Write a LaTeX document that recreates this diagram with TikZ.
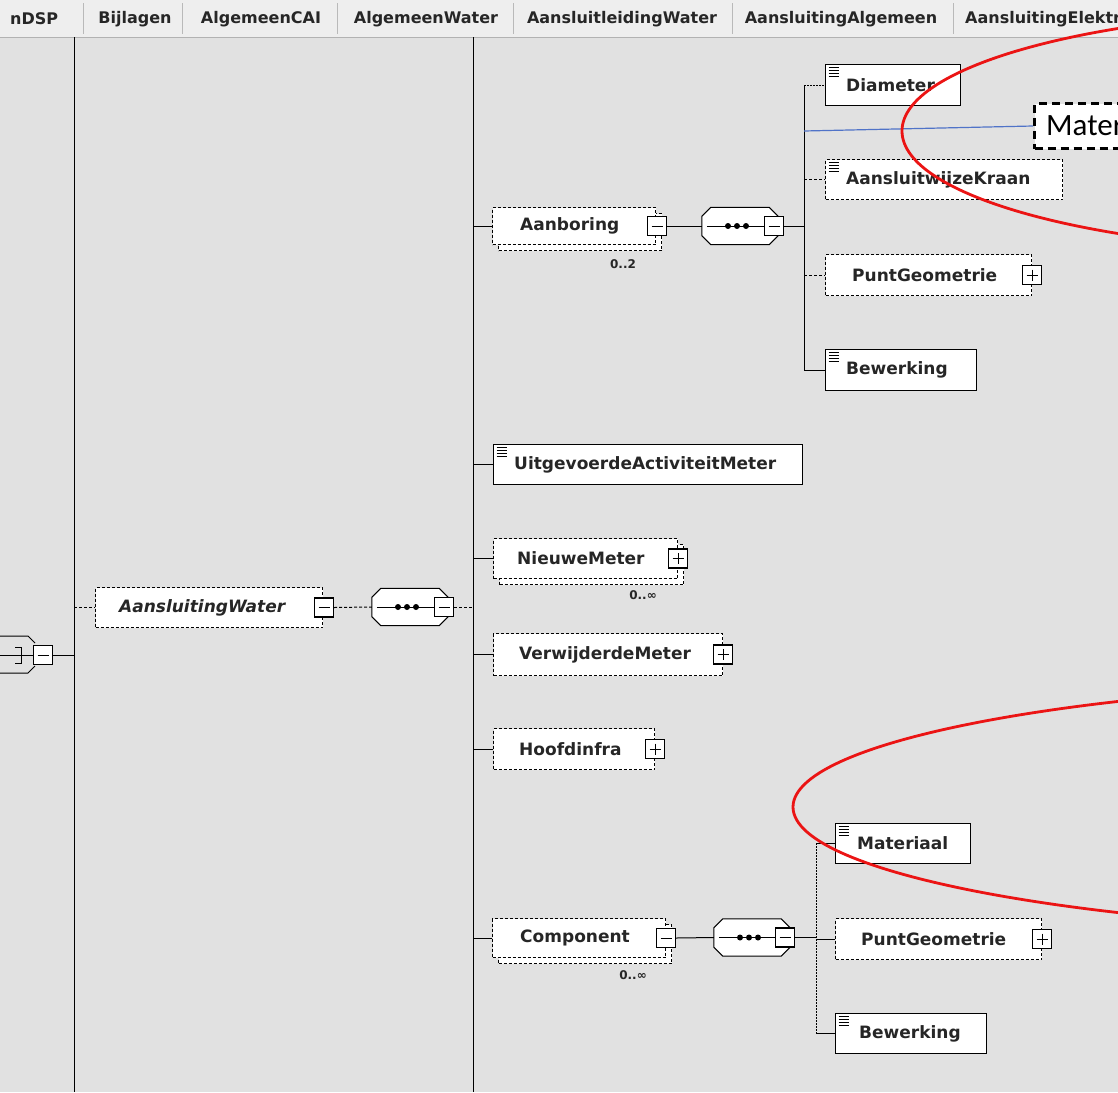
\documentclass[tikz,border=0pt]{standalone}
\usepackage{fontspec}
\setmainfont{DejaVu Sans}
\newfontfamily\notefont{Carlito}
\usetikzlibrary{positioning,shadows}
\definecolor{canvasgray}{RGB}{225,225,225}
\definecolor{tabgray}{RGB}{238,238,238}
\definecolor{notered}{RGB}{235,20,20}
\definecolor{noteblue}{RGB}{80,115,200}
\newcommand\lblfont{\fontsize{17}{19}\selectfont\bfseries}
\newcommand\tabfont{\fontsize{16}{18}\selectfont\bfseries}
\newcommand\cardfont{\fontsize{12}{14}\selectfont\bfseries}

\tikzset{
  elembox/.style={draw=black, fill=white, line width=1pt, inner sep=0pt, anchor=north west},
  optbox/.style={elembox, dash pattern=on 3pt off 2pt},
  multbox/.style={copy shadow={shadow xshift=6pt, shadow yshift=-6pt}},
  docbox/.style={path picture={
      \draw[solid, line width=1.5pt] ([shift={(3pt,-3pt)}]path picture bounding box.north west) -- ++(10pt,0pt);
      \foreach \k in {6,9,12}
        \draw[solid, line width=0.8pt] ([shift={(3pt,-\k pt)}]path picture bounding box.north west) -- ++(10pt,0pt);}},
  lbl/.style={font=\lblfont, text=black!85, inner sep=0pt, anchor=west},
  tablbl/.style={font=\tabfont, text=black!85, inner sep=0pt},
  cardlbl/.style={font=\cardfont, text=black!85, inner sep=0pt},
  minbtn/.style={draw, fill=white, line width=1.4pt, minimum size=19pt, inner sep=0pt,
    path picture={\draw[line width=0.9pt] ([xshift=4pt]path picture bounding box.west) -- ([xshift=-4pt]path picture bounding box.east);}},
  plusbtn/.style={draw, fill=white, line width=1.4pt, minimum size=19pt, inner sep=0pt,
    path picture={\draw[line width=0.9pt] ([xshift=4pt]path picture bounding box.west) -- ([xshift=-4pt]path picture bounding box.east);
      \draw[line width=0.9pt] ([yshift=-4pt]path picture bounding box.north) -- ([yshift=4pt]path picture bounding box.south);}},
  seqbox/.style={minimum width=76pt, minimum height=37pt, inner sep=0pt},
  octagon/.style={draw=black, fill=white, line width=1pt},
  link/.style={line width=1pt},
  optlink/.style={line width=1pt, dash pattern=on 3pt off 2pt},
  dotlink/.style={line width=1pt, dash pattern=on 1.5pt off 1.5pt},
  notebox/.style={draw=black, fill=white, line width=3pt, dash pattern=on 8pt off 5pt, anchor=north west,
    minimum width=120pt, minimum height=45pt, inner sep=0pt},
  ring/.style={notered, line width=2.8pt}
}

\begin{document}
\begin{tikzpicture}[x=1pt, y=-1pt]
  \useasboundingbox (0,0) rectangle (1118,1092);
  \clip (0,0) rectangle (1118,1092);
  \fill[canvasgray] (0,0) rectangle (1118,1092);

  % tab bar
  \fill[tabgray] (0,0) rectangle (1118,37);
  \draw[gray!60] (0,37) -- (1118,37);
  \foreach \sx in {83,182,337,513,732,953}
    \draw[gray!55] (\sx,3) -- (\sx,34);
  \node[tablbl, anchor=west] (tabdsp) at (10,19) {nDSP};
  \node[tablbl] (tabbijlagen) at (135,19) {Bijlagen};
  \node[tablbl] (tabcai) at (261,19) {AlgemeenCAI};
  \node[tablbl] (tabwater) at (426,19) {AlgemeenWater};
  \node[tablbl] (tableiding) at (622,19) {AansluitleidingWater};
  \node[tablbl] (tabalgemeen) at (841,19) {AansluitingAlgemeen};
  \node[tablbl, anchor=west] (tabelektra) at (965,19) {AansluitingElektra};

  % left trunk and the cut-off compositor
  \coordinate (trunkL) at (74,37);
  \coordinate (trunkLend) at (74,1092);
  \draw[link] (trunkL) -- (trunkLend);
  \draw[link] (0,636) -- (28,636) -- (35,643);
  \draw[link] (0,673) -- (28,673) -- (35,666);
  \node[minbtn] (rootbtn) at (43,655) {};
  \draw[link] (0,655) -- (rootbtn.west);
  \draw[line width=0.8pt] (15,647) -- (21,647) -- (21,663) -- (15,663);
  \draw[link] (rootbtn.east) -- (rootbtn.east -| trunkL);

  % sequence compositors
  \node[seqbox] (seqw) at (410,607) {};
  \node[seqbox] (seqa) at (740,226) {};
  \node[seqbox] (seqc) at (752,937.5) {};
  \foreach \sq in {seqw,seqa,seqc} {
    \draw[octagon] ([xshift=9pt]\sq.north west) -- ([xshift=-9pt]\sq.north east)
      -- ([yshift=-9pt]\sq.north east) -- ([yshift=9pt]\sq.south east)
      -- ([xshift=-9pt]\sq.south east) -- ([xshift=9pt]\sq.south west)
      -- ([yshift=9pt]\sq.south west) -- ([yshift=-9pt]\sq.north west) -- cycle;
    \draw[link] ([xshift=5pt]\sq.west) -- ([xshift=-10pt]\sq.east);
    \foreach \dx in {-12,-3,6}
      \fill ([xshift=\dx pt]\sq.center) circle (3pt);
  }

  % AansluitingWater
  \node[optbox, minimum width=227pt, minimum height=40pt] (aansluiting) at (95,587) {};
  \node[lbl, font=\lblfont\itshape, right=24pt of aansluiting.west] (aansluitinglbl) {AansluitingWater};
  \node[minbtn] (aansluitingbtn) at ([xshift=1pt]aansluiting.east) {};
  \draw[optlink] (aansluiting.west -| trunkL) -- (aansluiting.west);
  \node[minbtn] (seqwbtn) at (444,607) {};
  \draw[optlink] (aansluitingbtn.east) -- (seqw.west);

  % main trunk
  \coordinate (trunkM) at (473,37);
  \coordinate (trunkMend) at (473,1092);
  \draw[optlink] (seqwbtn.east) -- (seqwbtn.east -| trunkM);
  \draw[link] (trunkM) -- (trunkMend);

  % Aanboring
  \node[optbox, multbox, minimum width=163pt, minimum height=37pt] (aanboring) at (492,207) {};
  \node[lbl, right=28pt of aanboring.west] (aanboringlbl) {Aanboring};
  \node[minbtn] (aanboringbtn) at ([xshift=1pt]aanboring.east) {};
  \node[cardlbl] (aanboringcard) at (623,264) {0..2};
  \draw[link] (aanboring.west -| trunkM) -- (aanboring.west);
  \node[minbtn] (seqabtn) at (774,226) {};
  \draw[link] (aanboringbtn.east) -- (seqa.west);
  \coordinate (trunkA) at (804,85);
  \coordinate (trunkAend) at (804,370);
  \draw[link] (seqabtn.east) -- (seqabtn.east -| trunkA);
  \draw[link] (trunkA) -- (trunkAend);

  \node[elembox, docbox, minimum width=135pt, minimum height=41pt] (diameter) at (825,64) {};
  \node[lbl, right=21pt of diameter.west] (diameterlbl) {Diameter};
  \draw[dotlink] (diameter.west -| trunkA) -- (diameter.west);

  \node[optbox, docbox, minimum width=237pt, minimum height=40pt] (kraan) at (825,159) {};
  \node[lbl, right=21pt of kraan.west] (kraanlbl) {AansluitwijzeKraan};
  \draw[optlink] (kraan.west -| trunkA) -- (kraan.west);

  \node[optbox, minimum width=206pt, minimum height=41pt] (punta) at (825,254) {};
  \node[lbl, right=27pt of punta.west] (puntalbl) {PuntGeometrie};
  \node[plusbtn] (puntabtn) at (punta.east) {};
  \draw[optlink] (punta.west -| trunkA) -- (punta.west);

  \node[elembox, docbox, minimum width=151pt, minimum height=41pt] (bewerkinga) at (825,349) {};
  \node[lbl, right=21pt of bewerkinga.west] (bewerkingalbl) {Bewerking};
  \draw[link] (bewerkinga.west -| trunkA) -- (bewerkinga.west);

  % note
  \node[notebox] (note) at (1033,102) {};
  \node[font=\notefont\fontsize{31}{34}\selectfont, inner sep=0pt, anchor=west, right=13pt of note.west] (notelbl) {Mater};
  \coordinate (notefoot) at (804,131);
  \draw[noteblue, line width=1.2pt] (note.west) -- (notefoot);

  % further children
  \node[elembox, docbox, minimum width=309pt, minimum height=40pt] (uitgevoerd) at (493,444) {};
  \node[lbl, right=21pt of uitgevoerd.west] (uitgevoerdlbl) {UitgevoerdeActiviteitMeter};
  \draw[link] (uitgevoerd.west -| trunkM) -- (uitgevoerd.west);

  \node[optbox, multbox, minimum width=184pt, minimum height=40pt] (nieuw) at (493,538) {};
  \node[lbl, right=24pt of nieuw.west] (nieuwlbl) {NieuweMeter};
  \node[plusbtn] (nieuwbtn) at (nieuw.east) {};
  \node[cardlbl] (nieuwcard) at (643,595) {0..∞};
  \draw[link] (nieuw.west -| trunkM) -- (nieuw.west);

  \node[optbox, minimum width=229pt, minimum height=42pt] (verwijderd) at (493,633) {};
  \node[lbl, right=26pt of verwijderd.west] (verwijderdlbl) {VerwijderdeMeter};
  \node[plusbtn] (verwijderdbtn) at (verwijderd.east) {};
  \draw[link] (verwijderd.west -| trunkM) -- (verwijderd.west);

  \node[optbox, minimum width=161pt, minimum height=41pt] (hoofdinfra) at (493,728) {};
  \node[lbl, right=26pt of hoofdinfra.west] (hoofdinfralbl) {Hoofdinfra};
  \node[plusbtn] (hoofdinfrabtn) at (hoofdinfra.east) {};
  \draw[link] (hoofdinfra.west -| trunkM) -- (hoofdinfra.west);

  % Component
  \node[optbox, multbox, minimum width=173pt, minimum height=39pt] (component) at (492,918) {};
  \node[lbl, right=28pt of component.west] (componentlbl) {Component};
  \node[minbtn] (componentbtn) at (component.east) {};
  \node[cardlbl] (componentcard) at (633,975) {0..∞};
  \draw[link] (component.west -| trunkM) -- (component.west);
  \node[minbtn] (seqcbtn) at (785,937.5) {};
  \draw[link] (componentbtn.east) -- (seqc.west);
  \coordinate (trunkC) at (816,843);
  \coordinate (trunkCend) at (816,1033);
  \draw[link] (seqcbtn.east) -- (seqcbtn.east -| trunkC);
  \draw[dotlink] (trunkC) -- (trunkCend);

  \node[elembox, docbox, minimum width=135pt, minimum height=40pt] (materiaal) at (835,823) {};
  \node[lbl, right=22pt of materiaal.west] (materiaallbl) {Materiaal};
  \draw[link] (materiaal.west -| trunkC) -- (materiaal.west);

  \node[optbox, minimum width=206pt, minimum height=41pt] (puntc) at (835,918) {};
  \node[lbl, right=26pt of puntc.west] (puntclbl) {PuntGeometrie};
  \node[plusbtn] (puntcbtn) at (puntc.east) {};
  \draw[link] (puntc.west -| trunkC) -- (puntc.west);

  \node[elembox, docbox, minimum width=151pt, minimum height=40pt] (bewerkingc) at (835,1013) {};
  \node[lbl, right=24pt of bewerkingc.west] (bewerkingclbl) {Bewerking};
  \draw[link] (bewerkingc.west -| trunkC) -- (bewerkingc.west);

  % red rings
  \draw[ring] (1352,131) ellipse [x radius=450pt, y radius=120pt];
  \draw[ring] (1493,807) ellipse [x radius=700pt, y radius=125pt];
\end{tikzpicture}
\end{document}
